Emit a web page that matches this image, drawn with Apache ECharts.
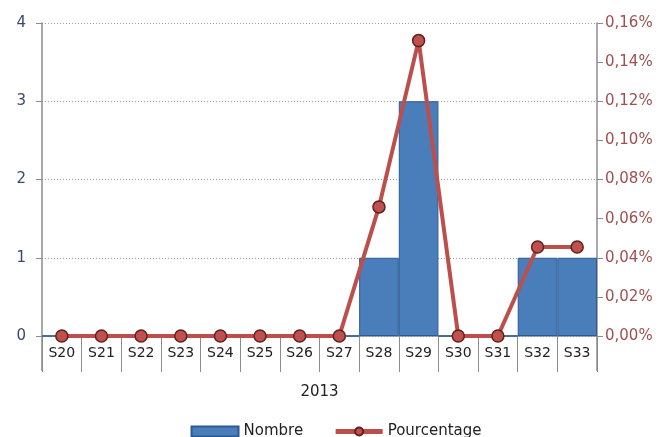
<!DOCTYPE html>
<html>
<head>
<meta charset="utf-8">
<script src="https://cdn.jsdelivr.net/npm/echarts@6/dist/echarts.min.js"></script>
<style>
  html, body { margin: 0; padding: 0; background: #ffffff; }
  #chart { width: 672px; height: 437px; }
</style>
</head>
<body>
<div id="chart"></div>
<script>
// Weekly counts and their share (in %) for 2013
const weeks = ['S20', 'S21', 'S22', 'S23', 'S24', 'S25', 'S26', 'S27', 'S28', 'S29', 'S30', 'S31', 'S32', 'S33'];
const yearLabel = ['2013'];
const nombre = [0, 0, 0, 0, 0, 0, 0, 0, 1, 3, 0, 0, 1, 1];
const pourcentage = [0, 0, 0, 0, 0, 0, 0, 0, 0.066, 0.151, 0, 0, 0.0455, 0.0455];

const font = 'DejaVu Sans';
const axisGray = '#8c8c8c';

const chart = echarts.init(document.getElementById('chart'));
chart.setOption({
  backgroundColor: '#ffffff',
  animation: false,
  grid: { left: 42, right: 75, top: 23, bottom: 101 },
  legend: {
    top: 419,
    left: 'center',
    itemGap: 30,
    itemWidth: 47,
    itemHeight: 10,
    textStyle: { fontFamily: font, fontSize: 15, color: '#222' },
    data: [
      { name: 'Nombre', icon: 'rect' },
      { name: 'Pourcentage', lineStyle: { width: 5 } }
    ]
  },
  xAxis: [
    {
      type: 'category',
      data: weeks,
      position: 'bottom',
      boundaryGap: true,
      axisLine: { show: true, lineStyle: { color: axisGray, width: 1.5 } },
      axisTick: { show: true, interval: 0, length: 36, lineStyle: { color: axisGray } },
      axisLabel: { interval: 0, margin: 10, fontFamily: font, fontSize: 14, color: '#222' },
      splitLine: { show: false }
    },
    {
      type: 'category',
      data: yearLabel,
      position: 'bottom',
      offset: 36,
      boundaryGap: true,
      axisLine: { show: false },
      axisTick: { show: true, length: 35, lineStyle: { color: axisGray, width: 1.5 } },
      axisLabel: { margin: 13, fontFamily: font, fontSize: 15, color: '#222' },
      splitLine: { show: false }
    }
  ],
  yAxis: [
    {
      type: 'value',
      min: 0,
      max: 4,
      interval: 1,
      axisLine: { show: true, lineStyle: { color: axisGray, width: 1.5 } },
      axisTick: { show: true, length: 6, lineStyle: { color: axisGray } },
      axisLabel: { margin: 16, fontFamily: font, fontSize: 15, color: '#3a4a6e' },
      splitLine: { show: true, lineStyle: { color: '#9a9a9a', type: [1, 2], width: 1 } }
    },
    {
      type: 'value',
      min: 0,
      max: 0.16,
      interval: 0.02,
      position: 'right',
      axisLine: { show: true, lineStyle: { color: axisGray, width: 1.5 } },
      axisTick: { show: true, length: 6, lineStyle: { color: axisGray } },
      axisLabel: {
        margin: 8,
        fontFamily: font,
        fontSize: 15,
        color: '#a04f4f',
        formatter: v => v.toFixed(2).replace('.', ',') + '%'
      },
      splitLine: { show: false }
    }
  ],
  series: [
    {
      name: 'Nombre',
      type: 'bar',
      xAxisIndex: 0,
      yAxisIndex: 0,
      data: nombre,
      barCategoryGap: '0%',
      itemStyle: { color: '#4a7ebb', borderColor: '#2d5a92', borderWidth: 1 },
      z: 2
    },
    {
      name: 'Pourcentage',
      type: 'line',
      xAxisIndex: 0,
      yAxisIndex: 1,
      data: pourcentage,
      symbol: 'circle',
      symbolSize: 12,
      lineStyle: { color: '#bc4f4c', width: 4 },
      itemStyle: { color: '#c0504d', borderColor: '#5e2220', borderWidth: 1.5 },
      z: 5
    }
  ]
});
</script>
</body>
</html>
